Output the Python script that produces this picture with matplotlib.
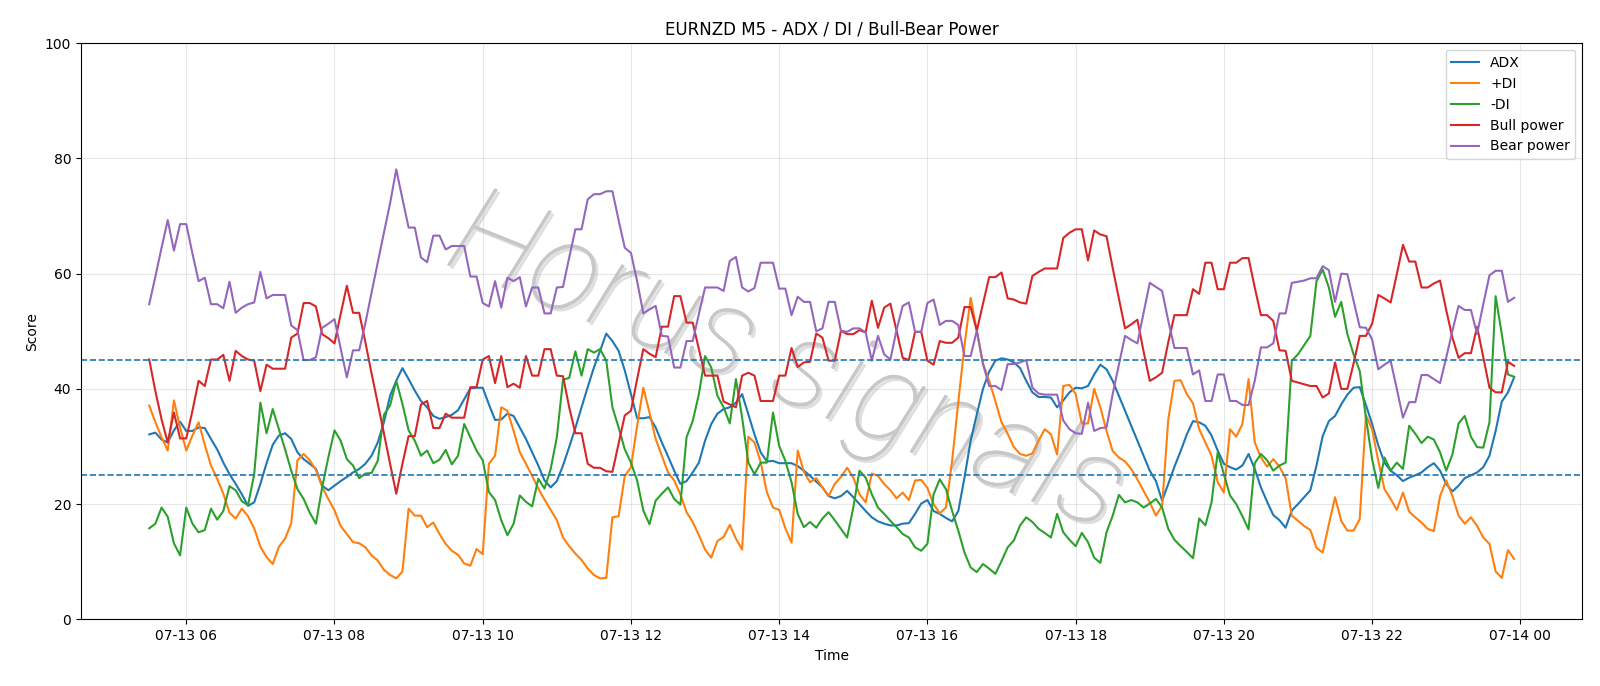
import numpy as np
import pandas as pd
import matplotlib
matplotlib.use("Agg")
import matplotlib.pyplot as plt
import matplotlib.patheffects as pe

# 5-minute bars, 07-13 05:30 .. 23:55
times = pd.date_range("2025-07-13 05:30", periods=222, freq="5min")

adx = [
    32.1, 32.4, 31.2, 30.7, 32.8, 34.3, 32.7, 32.7, 33.3, 33.2, 31.3, 29.5, 27.2, 25.2, 23.5, 21.7,
    19.7, 20.3, 23.5, 27.1, 30.3, 31.9, 32.3, 31.3, 29.0, 27.8, 27.0, 26.1, 23.2, 22.4, 23.2, 24.0,
    24.7, 25.5, 26.1, 27.0, 28.4, 30.7, 34.2, 38.8, 41.4, 43.6, 41.7, 39.7, 37.9, 36.8, 35.3, 34.8,
    35.1, 35.5, 36.3, 38.2, 40.1, 40.2, 40.2, 37.3, 34.6, 34.7, 35.7, 35.3, 33.3, 31.3, 29.0, 26.7,
    24.1, 22.9, 24.0, 26.7, 29.9, 33.2, 36.8, 40.3, 43.7, 46.6, 49.6, 48.3, 46.6, 43.2, 39.1, 34.9,
    34.9, 35.1, 33.3, 30.7, 28.3, 25.8, 23.5, 24.0, 25.5, 27.2, 31.0, 33.9, 35.7, 36.5, 36.8, 37.6,
    39.1, 35.6, 32.1, 29.0, 27.4, 27.5, 27.1, 27.1, 27.1, 26.6, 25.8, 24.9, 23.9, 22.9, 21.4, 21.0,
    21.4, 22.3, 21.2, 20.0, 18.8, 17.7, 17.0, 16.6, 16.3, 16.3, 16.6, 16.7, 18.3, 20.1, 20.7, 18.8,
    18.3, 17.6, 17.0, 18.8, 24.6, 31.0, 35.6, 40.0, 43.0, 44.9, 45.3, 45.1, 44.6, 43.6, 41.4, 39.4,
    38.6, 38.6, 38.5, 36.8, 38.0, 39.4, 40.2, 40.1, 40.5, 42.5, 44.2, 43.4, 41.4, 38.8, 36.2, 33.6,
    31.0, 28.4, 25.8, 24.0, 20.6, 23.5, 26.5, 29.2, 32.1, 34.4, 34.2, 33.6, 31.9, 29.3, 27.0, 26.4,
    26.0, 26.7, 28.7, 26.1, 22.9, 20.4, 18.1, 17.2, 15.9, 18.9, 20.0, 21.2, 22.4, 26.7, 31.8, 34.4,
    35.3, 37.3, 39.0, 40.2, 40.3, 37.2, 33.9, 30.2, 27.2, 25.8, 25.0, 24.0, 24.6, 25.0, 25.5, 26.4,
    27.1, 25.8, 23.5, 22.2, 23.2, 24.5, 25.0, 25.5, 26.4, 28.4, 32.7, 37.8, 39.4, 42.0,
]

plus_di = [
    37.1, 34.2, 31.6, 29.3, 38.0, 33.3, 29.3, 31.9, 34.2, 30.3, 26.7, 24.4, 21.8, 18.5, 17.5, 19.2,
    17.9, 15.8, 12.6, 10.8, 9.6, 12.6, 14.0, 16.7, 27.6, 28.7, 27.6, 25.9, 23.0, 20.9, 18.9, 16.2,
    14.8, 13.4, 13.2, 12.5, 11.1, 10.2, 8.6, 7.7, 7.1, 8.3, 19.2, 18.0, 18.0, 16.0, 16.8, 14.8,
    13.1, 11.9, 11.2, 9.7, 9.3, 12.2, 11.3, 27.0, 28.4, 36.8, 36.2, 32.7, 29.0, 27.0, 24.9, 22.7,
    20.8, 19.0, 17.2, 14.2, 12.7, 11.4, 10.3, 8.8, 7.7, 7.1, 7.2, 17.7, 17.9, 24.9, 26.4, 33.6,
    40.2, 35.9, 31.3, 28.4, 25.5, 24.1, 21.7, 18.6, 16.9, 14.6, 12.1, 10.7, 13.6, 14.3, 16.4, 14.0,
    12.1, 31.7, 30.7, 27.3, 22.1, 19.4, 19.0, 15.8, 13.3, 29.3, 25.6, 23.8, 24.5, 22.9, 21.4, 23.5,
    24.7, 26.3, 24.6, 21.7, 20.3, 25.3, 24.9, 23.5, 22.4, 21.0, 22.0, 20.7, 24.1, 24.2, 22.8, 20.0,
    18.4, 19.4, 27.5, 37.7, 47.5, 55.8, 50.1, 44.4, 41.4, 37.9, 34.2, 32.2, 29.9, 28.7, 28.4, 28.8,
    31.0, 33.0, 32.1, 28.6, 40.5, 40.7, 39.1, 34.0, 34.0, 40.0, 36.8, 32.7, 29.2, 28.1, 27.4, 26.1,
    24.3, 22.3, 20.3, 18.0, 19.7, 34.7, 41.4, 41.5, 39.1, 37.5, 33.0, 30.7, 28.4, 23.8, 22.0, 33.0,
    31.7, 33.9, 41.7, 30.7, 28.1, 26.5, 27.8, 26.5, 24.5, 18.0, 17.1, 16.2, 15.5, 12.4, 11.6, 16.5,
    21.2, 17.1, 15.4, 15.4, 17.4, 35.4, 33.0, 27.5, 22.6, 20.9, 19.0, 22.0, 18.7, 17.7, 16.8, 15.7,
    15.3, 21.4, 24.1, 21.4, 18.0, 16.6, 17.7, 16.2, 14.2, 13.1, 8.3, 7.2, 12.0, 10.5,
]

minus_di = [
    15.8, 16.6, 19.4, 17.8, 13.2, 11.1, 19.4, 16.6, 15.1, 15.5, 19.2, 17.3, 18.8, 23.1, 22.4, 20.5,
    19.8, 25.2, 37.6, 32.3, 36.5, 33.0, 29.5, 25.8, 22.6, 20.9, 18.5, 16.6, 22.9, 28.1, 32.8, 31.0,
    27.8, 26.7, 24.5, 25.3, 25.4, 27.5, 35.5, 37.1, 41.4, 37.4, 32.8, 31.0, 28.4, 29.3, 27.1, 27.7,
    29.4, 26.9, 28.4, 33.9, 31.6, 29.3, 27.6, 22.1, 20.7, 17.2, 14.6, 16.6, 21.5, 20.4, 19.6, 24.4,
    22.7, 26.1, 31.6, 41.6, 41.9, 46.5, 42.3, 46.9, 46.3, 46.9, 44.9, 36.8, 33.3, 29.5, 27.2, 24.1,
    18.9, 16.5, 20.6, 21.8, 22.9, 20.9, 19.9, 31.6, 34.4, 39.1, 45.7, 43.7, 38.8, 36.8, 34.0, 41.7,
    35.0, 27.2, 25.2, 27.2, 27.2, 35.9, 30.1, 27.5, 23.8, 18.3, 16.0, 16.9, 15.9, 17.5, 18.6, 17.2,
    15.7, 14.2, 19.4, 25.8, 24.6, 21.7, 19.4, 18.3, 17.1, 16.0, 14.8, 14.2, 12.5, 11.9, 13.1, 21.7,
    24.3, 22.6, 18.8, 15.4, 11.6, 9.0, 8.2, 9.6, 8.8, 7.9, 10.1, 12.5, 13.7, 16.3, 17.7, 16.9,
    15.7, 15.0, 14.2, 18.3, 15.1, 13.8, 12.7, 15.0, 13.4, 10.7, 9.8, 15.1, 18.0, 21.6, 20.3, 20.7,
    20.3, 19.4, 20.1, 20.9, 19.4, 15.7, 13.8, 12.7, 11.7, 10.6, 17.5, 16.3, 20.3, 29.0, 25.2, 21.5,
    20.0, 17.9, 15.6, 27.1, 28.7, 27.6, 25.8, 26.7, 27.2, 44.9, 46.0, 47.6, 49.2, 58.7, 60.7, 57.6,
    52.5, 55.1, 49.5, 46.0, 43.1, 35.0, 27.8, 22.8, 28.1, 25.8, 27.2, 26.1, 33.6, 32.2, 30.6, 31.7,
    31.2, 29.0, 25.8, 28.6, 34.0, 35.3, 31.7, 29.9, 29.8, 34.2, 56.1, 49.5, 42.5, 42.1,
]

bull = [
    45.1, 39.6, 34.7, 30.7, 35.9, 31.4, 31.4, 36.2, 41.4, 40.5, 45.1, 45.1, 45.9, 41.4, 46.6, 45.7,
    45.1, 44.9, 39.6, 44.2, 43.5, 43.5, 43.5, 48.9, 49.6, 54.9, 54.9, 54.3, 49.5, 48.8, 47.9, 53.0,
    57.9, 53.2, 53.2, 48.1, 42.7, 37.5, 32.3, 27.0, 21.8, 27.0, 31.8, 31.8, 37.3, 37.9, 33.2, 33.2,
    35.7, 35.0, 35.0, 35.0, 40.3, 40.3, 45.1, 45.7, 41.0, 45.7, 40.3, 40.9, 40.2, 45.7, 42.3, 42.3,
    46.9, 46.9, 42.3, 42.2, 36.8, 32.3, 32.3, 27.0, 26.3, 26.3, 25.7, 25.6, 30.5, 35.4, 36.2, 41.7,
    46.9, 46.1, 45.5, 50.8, 50.8, 56.1, 56.1, 51.5, 51.5, 46.9, 42.3, 42.3, 42.3, 37.8, 37.3, 36.8,
    42.3, 42.8, 42.3, 37.9, 37.9, 37.9, 42.3, 42.3, 47.1, 43.8, 44.6, 44.7, 49.6, 48.9, 44.9, 44.9,
    50.1, 49.5, 49.5, 50.2, 49.8, 55.3, 50.6, 54.1, 54.8, 50.1, 45.4, 45.0, 49.9, 49.9, 44.9, 44.2,
    48.3, 48.0, 48.0, 48.9, 54.2, 54.2, 50.1, 54.8, 59.4, 59.4, 60.2, 55.7, 55.5, 55.0, 54.8, 59.6,
    60.3, 60.9, 60.9, 60.9, 66.2, 67.1, 67.7, 67.7, 62.3, 67.5, 66.8, 66.5, 61.0, 55.7, 50.5, 51.2,
    52.0, 46.5, 41.4, 42.0, 42.8, 48.1, 52.8, 52.8, 52.8, 57.3, 56.5, 61.9, 61.9, 57.3, 57.3, 61.9,
    61.9, 62.7, 62.7, 57.6, 52.8, 52.8, 51.8, 46.7, 46.6, 41.4, 41.1, 40.8, 40.5, 40.5, 38.5, 39.2,
    44.6, 40.0, 40.0, 44.4, 49.2, 49.2, 51.3, 56.3, 55.7, 55.0, 59.9, 65.0, 62.1, 62.1, 57.6, 57.6,
    58.3, 58.8, 53.7, 48.9, 45.4, 46.2, 46.2, 50.8, 45.5, 40.2, 39.4, 39.4, 44.7, 44.0,
]

bear = [
    54.7, 59.5, 64.5, 69.3, 64.0, 68.6, 68.6, 63.5, 58.7, 59.3, 54.7, 54.7, 54.0, 58.6, 53.2, 54.1,
    54.7, 55.0, 60.3, 55.7, 56.3, 56.3, 56.3, 51.0, 50.2, 45.0, 45.0, 45.5, 50.6, 51.3, 52.1, 47.0,
    42.0, 46.7, 46.7, 51.4, 56.7, 61.9, 67.1, 72.2, 78.1, 73.0, 68.0, 68.0, 62.8, 62.0, 66.6, 66.6,
    64.2, 64.8, 64.8, 64.8, 59.5, 59.5, 54.9, 54.3, 58.7, 54.1, 59.3, 58.7, 59.4, 54.3, 57.6, 57.6,
    53.1, 53.1, 57.6, 57.7, 62.8, 67.7, 67.7, 72.9, 73.8, 73.8, 74.3, 74.3, 69.3, 64.5, 63.6, 58.7,
    53.1, 53.8, 54.4, 49.2, 49.1, 43.7, 43.7, 48.3, 48.3, 53.0, 57.6, 57.6, 57.6, 57.0, 62.2, 62.9,
    57.6, 56.9, 57.5, 61.9, 61.9, 61.9, 57.4, 57.4, 52.8, 56.0, 55.1, 55.1, 50.0, 50.5, 55.1, 55.1,
    50.1, 49.9, 50.5, 50.5, 49.8, 44.9, 49.2, 46.0, 45.1, 50.2, 54.4, 55.0, 49.9, 49.9, 54.9, 55.5,
    51.1, 51.8, 51.8, 51.1, 45.7, 45.7, 50.1, 44.3, 40.5, 40.5, 39.8, 44.3, 44.3, 44.6, 45.0, 40.2,
    39.2, 39.0, 39.0, 39.0, 34.5, 33.0, 32.3, 32.2, 37.6, 32.7, 33.2, 33.3, 39.1, 44.2, 49.2, 48.5,
    47.9, 53.2, 58.4, 57.7, 57.0, 51.8, 47.1, 47.1, 47.1, 42.5, 43.2, 37.9, 37.9, 42.5, 42.5, 37.9,
    37.9, 37.2, 37.2, 41.4, 47.2, 47.2, 47.9, 53.1, 53.1, 58.4, 58.6, 58.8, 59.2, 59.2, 61.3, 60.6,
    55.1, 60.0, 59.9, 55.3, 50.7, 50.6, 48.6, 43.4, 44.2, 44.9, 40.0, 35.0, 37.7, 37.7, 42.4, 42.4,
    41.7, 41.0, 45.4, 50.1, 54.4, 53.7, 53.7, 49.5, 54.7, 59.7, 60.5, 60.5, 55.1, 55.8,
]

fig, ax = plt.subplots(figsize=(16, 6.86), dpi=100)
fig.subplots_adjust(left=0.0506, right=0.989, top=0.937, bottom=0.0972)

ax.plot(times, adx, label="ADX")
ax.plot(times, plus_di, label="+DI")
ax.plot(times, minus_di, label="-DI")
ax.plot(times, bull, label="Bull power")
ax.plot(times, bear, label="Bear power")

# trend thresholds
ax.axhline(25, linestyle="--", linewidth=1.2)
ax.axhline(45, linestyle="--", linewidth=1.2)

# watermark: thin grey letters with a soft shadow
wm = ax.text(0.47, 0.44, "Horus signals", transform=ax.transAxes, fontsize=90,
             family="Roboto", fontweight="light", fontstyle="italic",
             color="#c8c8c8", rotation=-22, ha="center", va="center", zorder=0)
wm.set_path_effects([
    pe.withSimplePatchShadow(offset=(2, -2), shadow_rgbFace="gray", alpha=0.25),
    pe.Normal(),
])

ax.set_ylim(0, 100)
ax.set_title("EURNZD M5 - ADX / DI / Bull-Bear Power")
ax.set_xlabel("Time")
ax.set_ylabel("Score")
ax.grid(True, alpha=0.3)
ax.legend(loc="upper right")

fig.savefig("out.png")
